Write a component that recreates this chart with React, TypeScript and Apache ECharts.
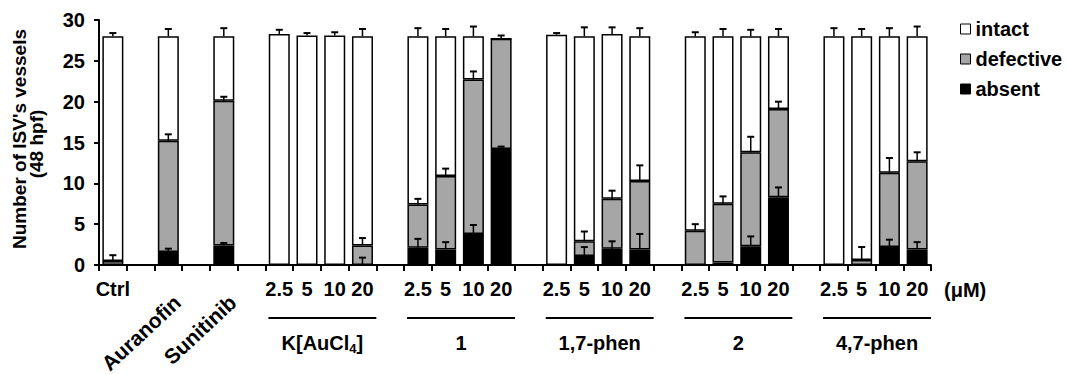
import React, { useEffect, useRef } from "react";
import * as echarts from "echarts";

const categories = [
  "Ctrl", "g1", "Auranofin", "g2", "Sunitinib", "g3",
  "K-2.5", "K-5", "K-10", "K-20", "g4",
  "1-2.5", "1-5", "1-10", "1-20", "g5",
  "17-2.5", "17-5", "17-10", "17-20", "g6",
  "2-2.5", "2-5", "2-10", "2-20", "g7",
  "47-2.5", "47-5", "47-10", "47-20",
];
const tickLabels = [
  "Ctrl", "", "", "", "", "",
  "2.5", "5", "10", "20", "",
  "2.5", "5", "10", "20", "",
  "2.5", "5", "10", "20", "",
  "2.5", "5", "10", "20", "",
  "2.5", "5", "10", "20",
];
const rotatedLabels = ["", "", "Auranofin", "", "Sunitinib"];
const groupNames = ["K[AuCl{s|4}]", "1", "1,7-phen", "2", "4,7-phen"];
const groupStart = [6, 11, 16, 21, 26];

const absent = [0, null, 1.6, null, 2.4, null, 0, 0, 0, 0, null, 2.1, 1.9, 3.8, 14.2, null, 0, 1.1, 2.0, 1.9, null, 0, 0.3, 2.3, 8.3, null, 0, 0, 2.2, 1.9];
const defective = [0.5, null, 13.6, null, 17.7, null, 0, 0, 0, 2.4, null, 5.3, 9.0, 18.9, 13.5, null, 0, 1.8, 6.1, 8.4, null, 4.2, 7.2, 11.5, 10.8, null, 0, 0.6, 9.1, 10.8];
const intact = [27.5, null, 12.8, null, 7.9, null, 28.3, 28.1, 28.1, 25.6, null, 20.6, 17.1, 5.3, 0, null, 28.2, 25.1, 20.2, 17.7, null, 23.8, 20.5, 14.2, 8.9, null, 28.0, 27.4, 16.7, 15.3];

const absentErr = [null, null, 0.4, null, 0.3, null, null, null, null, 0.9, null, 1.1, 0.9, 1.1, 0.3, null, null, 1.1, 0.9, 1.9, null, null, null, 1.2, 1.2, null, null, null, 0.9, 0.9];
const defectiveErr = [0.7, null, 0.8, null, 0.5, null, null, null, null, 0.9, null, 0.7, 0.9, 1.0, 0.4, null, null, 1.2, 1.0, 1.9, null, 0.8, 0.9, 1.9, 0.9, null, null, 1.6, 1.8, 1.1];
const intactErr = [0.4, null, 0.9, null, 1.0, null, 0.5, 0.3, 0.4, 0.9, null, 1.0, 0.9, 1.2, null, null, 0.2, 1.1, 0.8, 1.0, null, 0.5, 0.9, 0.8, 0.9, null, 1.0, 0.9, 1.0, 1.2];

const FONT = "'Liberation Sans', Arial, sans-serif";

function buildErrData() {
  const out: number[][] = [];
  categories.forEach((_, i) => {
    if (absent[i] === null) return;
    const a = absent[i] as number;
    const d = a + (defective[i] as number);
    const t = d + (intact[i] as number);
    if (absentErr[i] != null) out.push([i, a, a + (absentErr[i] as number)]);
    if (defectiveErr[i] != null) out.push([i, d, d + (defectiveErr[i] as number)]);
    if (intactErr[i] != null) out.push([i, t, t + (intactErr[i] as number)]);
  });
  return out;
}

export default function App() {
  const ref = useRef<HTMLDivElement>(null);
  useEffect(() => {
    if (!ref.current) return;
    const chart = echarts.init(ref.current, null, { renderer: "svg" });
    const barStyle = (color: string) => ({ color, borderColor: "#000", borderWidth: 1.5 });
    chart.setOption({
      animation: false,
      backgroundColor: "#fff",
      grid: { left: 99, top: 20, width: 832, height: 245, containLabel: false },
      legend: {
        data: ["intact", "defective", "absent"],
        orient: "vertical",
        left: 955,
        top: 14,
        itemWidth: 10,
        itemHeight: 10,
        itemGap: 10,
        icon: "rect",
        itemStyle: { borderWidth: 1 },
        textStyle: { fontFamily: FONT, fontWeight: "bold", fontSize: 20, color: "#000" },
      },
      xAxis: {
        type: "category",
        data: categories,
        boundaryGap: true,
        axisLine: { lineStyle: { color: "#000", width: 2 } },
        axisTick: { show: true, interval: 0, length: 6, lineStyle: { color: "#000", width: 2 } },
        axisLabel: {
          interval: 0,
          margin: 14,
          formatter: (_v: string, i: number) => tickLabels[i],
          fontFamily: FONT,
          fontWeight: "bold",
          fontSize: 20,
          color: "#000",
        },
      },
      yAxis: {
        type: "value",
        min: 0,
        max: 30,
        interval: 5,
        splitLine: { show: false },
        axisLine: { show: true, lineStyle: { color: "#000", width: 2 } },
        axisTick: { show: true, length: 5, lineStyle: { color: "#000", width: 2 } },
        axisLabel: { margin: 14, fontFamily: FONT, fontWeight: "bold", fontSize: 20, color: "#000" },
      },
      series: [
        { name: "absent", type: "bar", stack: "s", data: absent, barWidth: 21, itemStyle: barStyle("#000") },
        { name: "defective", type: "bar", stack: "s", data: defective, barWidth: 21, itemStyle: barStyle("#a6a6a6") },
        { name: "intact", type: "bar", stack: "s", data: intact, barWidth: 21, itemStyle: barStyle("#ffffff") },
        {
          name: "err",
          type: "custom",
          z: 10,
          data: buildErrData(),
          renderItem: (_p: any, api: any) => {
            const x = api.value(0);
            const lo = api.coord([x, api.value(1)]);
            const hi = api.coord([x, api.value(2)]);
            return {
              type: "group",
              children: [
                { type: "line", shape: { x1: lo[0], y1: lo[1], x2: hi[0], y2: hi[1] }, style: { stroke: "#000", lineWidth: 1.5 } },
                { type: "line", shape: { x1: hi[0] - 3.5, y1: hi[1], x2: hi[0] + 3.5, y2: hi[1] }, style: { stroke: "#000", lineWidth: 2 } },
              ],
            };
          },
        },
      ],
    });

    const cx = (i: number) => chart.convertToPixel({ xAxisIndex: 0 }, i) as number;
    const y0 = chart.convertToPixel({ yAxisIndex: 0 }, 0) as number;
    const slot = cx(1) - cx(0);
    const graphics: any[] = [];
    rotatedLabels.forEach((t, i) => {
      if (!t) return;
      graphics.push({
        type: "text",
        x: cx(i) + 9,
        y: y0 + 34,
        rotation: (43 * Math.PI) / 180,
        style: { text: t, align: "right", verticalAlign: "middle", fontFamily: FONT, fontWeight: "bold", fontSize: 21, fill: "#000" },
      });
    });
    groupStart.forEach((s, gi) => {
      const x1 = cx(s) - slot / 2 + 3;
      const x2 = cx(s + 3) + slot / 2;
      graphics.push({ type: "line", shape: { x1, y1: 318, x2, y2: 318 }, style: { stroke: "#000", lineWidth: 2 } });
      graphics.push({
        type: "text",
        x: (x1 + x2) / 2,
        y: 343,
        style: {
          text: groupNames[gi],
          align: "center",
          verticalAlign: "middle",
          fontFamily: FONT,
          fontWeight: "bold",
          fontSize: 20,
          lineHeight: 24,
          fill: "#000",
          rich: { s: { fontFamily: FONT, fontWeight: "bold", fontSize: 13, lineHeight: 13, verticalAlign: "bottom", fill: "#000" } },
        },
      });
    });
    graphics.push({
      type: "text",
      x: cx(categories.length - 1) + slot / 2 + 13,
      y: 290,
      style: { text: "(μM)", align: "left", verticalAlign: "middle", fontFamily: FONT, fontWeight: "bold", fontSize: 20, fill: "#000" },
    });
    graphics.push({
      type: "text",
      x: 19,
      y: 139,
      rotation: Math.PI / 2,
      style: { text: "Number of ISV's vessels", align: "center", verticalAlign: "middle", fontFamily: FONT, fontWeight: "bold", fontSize: 19, fill: "#000" },
    });
    graphics.push({
      type: "text",
      x: 36,
      y: 144,
      rotation: Math.PI / 2,
      style: { text: "(48 hpf)", align: "center", verticalAlign: "middle", fontFamily: FONT, fontWeight: "bold", fontSize: 19, fill: "#000" },
    });
    chart.setOption({ graphic: graphics });

    return () => chart.dispose();
  }, []);
  return <div ref={ref} style={{ position: "absolute", left: 0, top: 0, width: 1067, height: 374 }} />;
}
